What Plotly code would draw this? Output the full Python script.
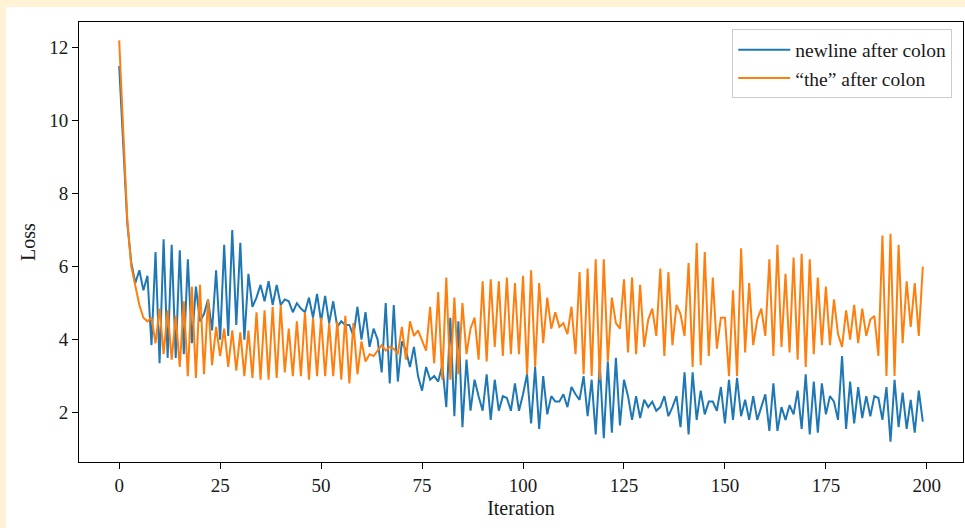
import plotly.graph_objects as go

iterations = list(range(200))

newline_after_colon = [
    11.5, 9.2, 7.2, 6.1, 5.55, 5.9, 5.35, 5.75, 3.85, 6.4,
    3.35, 6.75, 3.5, 6.6, 3.5, 6.45, 3.6, 6.2, 3.9, 5.45,
    4.5, 4.7, 5.1, 4.25, 5.9, 4.0, 6.6, 4.1, 7.0, 4.4,
    6.65, 4.0, 5.8, 4.9, 5.15, 5.5, 5.05, 5.6, 4.95, 5.5,
    4.95, 5.1, 5.05, 4.75, 5.0, 4.85, 4.75, 5.15, 4.6, 5.25,
    4.5, 5.2, 4.45, 5.05, 4.35, 4.5, 4.4, 4.4, 4.1, 4.9,
    4.0, 4.75, 3.8, 4.3, 4.0, 3.1, 5.0, 2.8, 4.95, 2.85,
    3.95, 3.7, 3.25, 3.8, 3.0, 2.6, 3.25, 2.9, 3.0, 2.85,
    3.3, 2.15, 4.6, 1.9, 4.5, 1.6, 3.45, 2.05, 2.9, 2.45,
    2.05, 3.05, 1.8, 2.9, 2.05, 2.45, 2.4, 2.05, 2.8, 2.05,
    2.5, 3.05, 1.7, 3.25, 1.55, 3.0, 1.95, 2.45, 2.3, 2.3,
    2.5, 2.15, 2.7, 2.5, 2.35, 3.0, 1.9, 2.9, 1.4, 3.35,
    1.3, 3.4, 1.45, 3.5, 1.65, 2.9, 2.45, 1.8, 2.45, 1.85,
    2.35, 2.15, 2.3, 2.05, 2.15, 2.45, 1.9, 2.15, 2.45, 1.6,
    3.1, 1.4, 3.1, 1.8, 2.6, 1.95, 2.3, 2.3, 2.05, 2.7,
    1.7, 2.9, 1.8, 2.95, 1.9, 2.35, 1.8, 2.45, 1.8, 2.15,
    2.5, 1.5, 2.8, 1.5, 2.15, 1.8, 2.2, 1.95, 2.6, 1.55,
    3.05, 1.4, 2.85, 1.45, 2.8, 1.95, 2.45, 2.3, 1.8, 3.55,
    1.55, 2.85, 1.7, 2.7, 1.85, 2.45, 1.9, 2.45, 2.4, 1.8,
    2.7, 1.2, 2.9, 1.6, 2.55, 1.55, 2.35, 1.45, 2.6, 1.75,
]

the_after_colon = [
    12.2, 9.5, 7.3, 6.0, 5.45, 4.95, 4.6, 4.5, 4.6, 3.9,
    4.85, 3.6, 4.8, 3.45, 4.65, 3.25, 5.05, 3.0, 5.45, 2.95,
    5.5, 3.05, 5.1, 3.3, 4.35, 3.55, 4.3, 3.25, 4.25, 3.15,
    4.2, 3.0, 4.25, 2.95, 4.75, 2.9, 4.8, 2.9, 4.9, 2.95,
    4.95, 3.1, 4.3, 3.0, 4.5, 3.0, 4.75, 2.9, 4.6, 3.0,
    4.6, 3.0, 4.45, 3.0, 4.5, 2.9, 4.65, 2.8, 4.45, 3.05,
    3.95, 3.4, 3.6, 3.55, 3.7, 3.85, 3.7, 3.8, 3.75, 3.6,
    4.35, 3.45, 4.5, 4.1, 4.25, 3.95, 3.7, 4.9, 3.35, 5.3,
    2.9, 5.7, 2.9, 5.15, 3.05, 5.0, 3.6, 4.3, 4.6, 3.45,
    5.6, 3.4, 5.65, 3.8, 5.6, 3.55, 5.7, 3.6, 5.55, 3.6,
    5.75, 3.05, 5.9, 3.25, 5.55, 3.9, 5.15, 4.3, 4.75, 4.35,
    4.45, 4.15, 4.9, 3.6, 5.85, 3.05, 5.95, 3.0, 6.2, 2.9,
    6.2, 3.4, 5.15, 4.45, 4.3, 5.65, 3.65, 5.7, 3.6, 5.5,
    3.8, 4.55, 4.85, 4.1, 5.95, 3.55, 5.85, 3.85, 4.95, 4.7,
    4.1, 6.1, 3.25, 6.65, 3.3, 6.4, 3.55, 5.7, 3.75, 4.6,
    4.6, 3.0, 5.35, 3.0, 6.5, 3.65, 5.55, 3.85, 4.55, 4.85,
    4.1, 6.2, 3.55, 6.6, 3.8, 5.8, 3.65, 6.25, 3.45, 6.35,
    3.25, 6.2, 3.6, 5.7, 3.85, 5.45, 3.85, 5.1, 4.15, 3.8,
    4.8, 4.0, 4.95, 3.9, 4.85, 4.1, 4.55, 4.65, 3.55, 6.85,
    3.0, 6.9, 3.0, 6.6, 3.9, 5.6, 4.35, 5.55, 4.1, 6.0,
]

series_names = ["newline after colon", "\u201cthe\u201d after colon"]
series_colors = ["#1f77b4", "#ff7f0e"]
x_ticks = [0, 25, 50, 75, 100, 125, 150, 175, 200]
y_ticks = [2, 4, 6, 8, 10, 12]

FONT = "Liberation Serif, Times New Roman, serif"
TXT = "#1a1a1a"
CREAM = "#FFF2D5"

fig = go.Figure()
for name, ys, col in zip(series_names, [newline_after_colon, the_after_colon], series_colors):
    fig.add_trace(go.Scatter(x=iterations, y=ys, mode="lines", name=name,
                             line=dict(color=col, width=2)))

axis_common = dict(showline=True, linecolor="black", linewidth=1, mirror=True,
                   ticks="outside", ticklen=6, tickcolor="black", tickwidth=1,
                   showgrid=False, zeroline=False, automargin=False,
                   tickfont=dict(family=FONT, size=19, color=TXT))

fig.update_xaxes(range=[-9.95, 208.95], tickvals=x_ticks,
                 title=dict(text="Iteration", font=dict(family=FONT, size=20, color=TXT), standoff=6),
                 **axis_common)
fig.update_yaxes(range=[0.645, 12.705], tickvals=y_ticks,
                 title=dict(text="Loss", font=dict(family=FONT, size=20, color=TXT), standoff=8),
                 **axis_common)

fig.add_shape(type="rect", xref="paper", yref="paper", x0=-0.0826, x1=1.01, y0=-0.16, y1=1.034,
              fillcolor="white", line=dict(width=0), layer="below")

fig.update_layout(
    width=965, height=528,
    margin=dict(l=79, r=2, t=22, b=66),
    paper_bgcolor=CREAM, plot_bgcolor="white",
    font=dict(family=FONT, color=TXT),
    legend=dict(x=0.739, y=0.983, xanchor="left", yanchor="top",
                bgcolor="white", bordercolor="#cccccc", borderwidth=1,
                font=dict(family=FONT, size=19.5, color=TXT),
                itemwidth=52, tracegroupgap=0),
    showlegend=True,
)

fig.write_html(
    "out.html",
    config={"displayModeBar": False},
    post_script="document.body.style.margin='0';document.body.style.padding='0';"
                "document.body.style.background='" + CREAM + "';"
                "document.documentElement.style.overflow='hidden';",
)
